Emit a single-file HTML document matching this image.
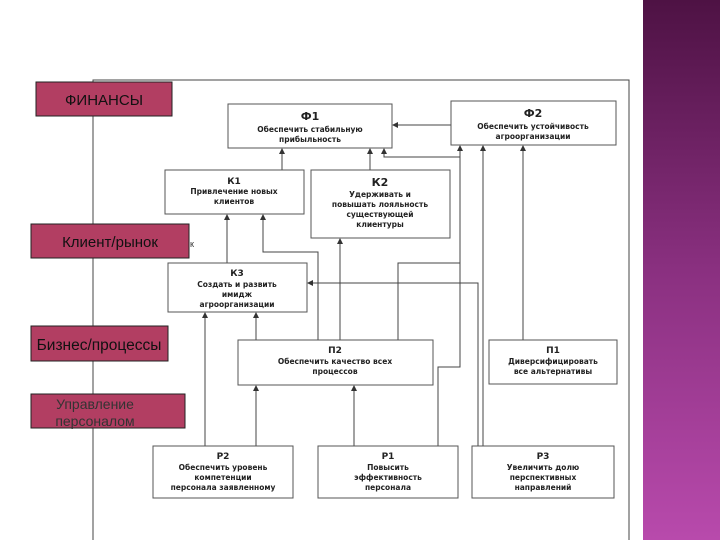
<!DOCTYPE html>
<html><head><meta charset="utf-8"><style>
html,body{margin:0;padding:0;width:720px;height:540px;overflow:hidden;background:#fff}
svg{display:block}
.b{fill:#fff;stroke:#555;stroke-width:1}
.l{stroke:#444;stroke-width:1;fill:none}
.t{font-family:"DejaVu Sans","Liberation Sans",sans-serif;font-weight:bold;fill:#222;text-anchor:middle}
.h{font-size:11px}
.s{font-size:7.5px}
.lab{font-family:"Liberation Sans",sans-serif;fill:#111;font-size:15px;text-anchor:middle}
</style></head><body>
<svg width="720" height="540" viewBox="0 0 720 540">
<defs>
<linearGradient id="g" x1="0" y1="0" x2="0" y2="1">
<stop offset="0" stop-color="#4e1244"/><stop offset="0.5" stop-color="#8a3080"/><stop offset="1" stop-color="#b84aac"/>
</linearGradient>
<marker id="a" markerWidth="6" markerHeight="6" refX="5" refY="3" orient="auto" markerUnits="userSpaceOnUse">
<path d="M0,0 L6,3 L0,6 z" fill="#333"/></marker>
</defs>
<rect x="643" y="0" width="77" height="540" fill="url(#g)"/>
<path class="l" d="M93,540 V80 H629 V540" stroke="#777"/>
<g class="l">
<path d="M451,125 H393" marker-end="url(#a)"/>
<path d="M282,170 V149" marker-end="url(#a)"/>
<path d="M370,170 V149" marker-end="url(#a)"/>
<path d="M460,157 H384 V149" marker-end="url(#a)"/>
<path d="M398,340 V263 H460"/>
<path d="M438,446 V367 H460 V146" marker-end="url(#a)"/>
<path d="M483,493 V146" marker-end="url(#a)"/>
<path d="M478,493 V283 H308" marker-end="url(#a)"/>
<path d="M523,340 V146" marker-end="url(#a)"/>
<path d="M227,263 V215" marker-end="url(#a)"/>
<path d="M318,340 V252 H263 V215" marker-end="url(#a)"/>
<path d="M340,340 V239" marker-end="url(#a)"/>
<path d="M205,446 V313" marker-end="url(#a)"/>
<path d="M256,340 V313" marker-end="url(#a)"/>
<path d="M256,446 V386" marker-end="url(#a)"/>
<path d="M354,446 V386" marker-end="url(#a)"/>
</g>
<rect class="b" x="228" y="104" width="164" height="44"/>
<text class="t h" x="310" y="120">Ф1</text>
<text class="t s" x="310" y="132">Обеспечить стабильную</text>
<text class="t s" x="310" y="142">прибыльность</text>
<rect class="b" x="451" y="101" width="165" height="44"/>
<text class="t h" x="533" y="117">Ф2</text>
<text class="t s" x="533" y="129">Обеспечить устойчивость</text>
<text class="t s" x="533" y="139">агроорганизации</text>
<rect class="b" x="165" y="170" width="139" height="44"/>
<text class="t s" x="234" y="184" style="font-size:9px">К1</text>
<text class="t s" x="234" y="194">Привлечение новых</text>
<text class="t s" x="234" y="204">клиентов</text>
<rect class="b" x="311" y="170" width="139" height="68"/>
<text class="t h" x="380" y="186">К2</text>
<text class="t s" x="380" y="197">Удерживать и</text>
<text class="t s" x="380" y="207">повышать лояльность</text>
<text class="t s" x="380" y="217">существующей</text>
<text class="t s" x="380" y="227">клиентуры</text>
<rect class="b" x="168" y="263" width="139" height="49"/>
<text class="t s" x="237" y="276" style="font-size:9px">К3</text>
<text class="t s" x="237" y="287">Создать и развить</text>
<text class="t s" x="237" y="297">имидж</text>
<text class="t s" x="237" y="307">агроорганизации</text>
<rect class="b" x="238" y="340" width="195" height="45"/>
<text class="t s" x="335" y="353" style="font-size:9px">П2</text>
<text class="t s" x="335" y="364">Обеспечить качество всех</text>
<text class="t s" x="335" y="374">процессов</text>
<rect class="b" x="489" y="340" width="128" height="44"/>
<text class="t s" x="553" y="353" style="font-size:9px">П1</text>
<text class="t s" x="553" y="364">Диверсифицировать</text>
<text class="t s" x="553" y="374">все альтернативы</text>
<rect class="b" x="153" y="446" width="140" height="52"/>
<text class="t s" x="223" y="459" style="font-size:9px">Р2</text>
<text class="t s" x="223" y="470">Обеспечить уровень</text>
<text class="t s" x="223" y="480">компетенции</text>
<text class="t s" x="223" y="490">персонала заявленному</text>
<rect class="b" x="318" y="446" width="140" height="52"/>
<text class="t s" x="388" y="459" style="font-size:9px">Р1</text>
<text class="t s" x="388" y="470">Повысить</text>
<text class="t s" x="388" y="480">эффективность</text>
<text class="t s" x="388" y="490">персонала</text>
<rect class="b" x="472" y="446" width="142" height="52"/>
<text class="t s" x="543" y="459" style="font-size:9px">Р3</text>
<text class="t s" x="543" y="470">Увеличить долю</text>
<text class="t s" x="543" y="480">перспективных</text>
<text class="t s" x="543" y="490">направлений</text>
<g stroke="#222" stroke-width="1" fill="#b23e62">
<rect x="36" y="82" width="136" height="34"/>
<rect x="31" y="224" width="158" height="34"/>
<rect x="31" y="326" width="137" height="35"/>
<rect x="31" y="394" width="154" height="34"/>
</g>
<text class="lab" x="104" y="105">ФИНАНСЫ</text>
<text class="lab" x="110" y="247">Клиент/рынок</text>
<text class="lab" x="99" y="350" style="font-size:15.5px">Бизнес/процессы</text>
<text class="lab" x="95" y="409" style="font-size:14px;fill:#333">Управление</text>
<text class="lab" x="95" y="426" style="font-size:14px;fill:#333">персоналом</text>
<text x="190" y="247" style="font-family:'Liberation Sans',sans-serif;font-size:9px;fill:#333">к</text>
</svg>
</body></html>
